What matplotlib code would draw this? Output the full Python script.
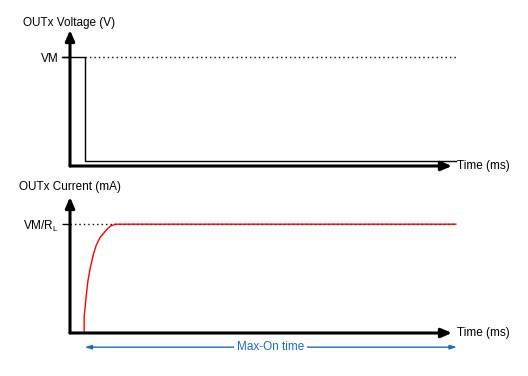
import matplotlib
matplotlib.use("Agg")
import matplotlib.pyplot as plt

plt.rcParams['font.family'] = ['Liberation Sans', 'DejaVu Sans']
plt.rcParams['mathtext.fontset'] = 'custom'
plt.rcParams['mathtext.rm'] = 'Liberation Sans'
plt.rcParams['mathtext.it'] = 'Liberation Sans'

# ---- data (time in arbitrary ms units, levels normalised to VM and VM/RL) ----
voltage_t = [-0.2, 0.38, 0.38, 10.1]
voltage_v = [1.0, 1.0, 0.045, 0.045]
vm_ref_t = [0.38, 10.1]
vm_ref_v = [1.0, 1.0]

current_t = [0.37, 0.37, 0.405, 0.44, 0.47, 0.52, 0.61, 0.69, 0.79, 0.96, 1.05, 1.18, 10.1]
current_i = [0.0, 0.15, 0.27, 0.39, 0.48, 0.58, 0.72, 0.81, 0.88, 0.95, 0.98, 1.0, 1.0]
irl_ref_t = [0.0, 10.1]
irl_ref_i = [1.0, 1.0]

max_on_start = 0.38
max_on_end = 10.13

top_ylabel = "OUTx Voltage (V)"
bot_ylabel = "OUTx Current (mA)"
xlabel = "Time (ms)"
top_tick = ["VM"]
bot_tick = [r"VM/R$_\mathrm{L}$"]
span_label = "Max-On time"

W, H = 528, 376
fig = plt.figure(figsize=(W / 100, H / 100), dpi=100)

def px_axes(x0, y0, x1, y1):
    return fig.add_axes([x0 / W, 1 - y0 / H, (x1 - x0) / W, (y0 - y1) / H])

ax1 = px_axes(70, 166, 452, 30)
ax2 = px_axes(70, 333, 452, 197)

FS = 8.5
for ax in (ax1, ax2):
    ax.set_xlim(0, 10)
    ax.set_ylim(0, 1.25)
    for s in ax.spines.values():
        s.set_visible(False)
    ax.set_xticks([])
    ax.tick_params(axis='y', length=6, width=1.0, pad=2, labelsize=FS, direction='out')
    ax.patch.set_alpha(0)
    arrow = dict(arrowstyle='-|>,head_length=0.7,head_width=0.3', lw=2.2,
                 color='black', shrinkA=0, shrinkB=0, mutation_scale=9)
    ax.annotate('', xy=(1, 0), xytext=(0, 0), xycoords='axes fraction',
                arrowprops=arrow, annotation_clip=False)
    ax.annotate('', xy=(0, 1), xytext=(0, 0), xycoords='axes fraction',
                arrowprops=arrow, annotation_clip=False)
    ax.text(1.0 + 5 / 382, 0, xlabel, transform=ax.transAxes, ha='left',
            va='center', fontsize=FS)

ax1.set_yticks([1.0], top_tick)
ax2.set_yticks([1.0], bot_tick)

dots = (0, (1, 2.2))
# top: voltage
ax1.plot(vm_ref_t, vm_ref_v, color='black', lw=1.0, ls=dots, clip_on=False)
ax1.plot(voltage_t, voltage_v, color='black', lw=1.0, clip_on=False)

# bottom: current
ax2.plot(current_t, current_i, color='#ff0000', lw=1.0, clip_on=False, zorder=2)
ax2.plot(irl_ref_t, irl_ref_i, color='black', lw=1.0, ls=dots, clip_on=False, zorder=1)

fig.text(69 / W, 1 - 23 / H, top_ylabel, ha='center', va='center', fontsize=FS)
fig.text(70 / W, 1 - 187 / H, bot_ylabel, ha='center', va='center', fontsize=FS)

blue = '#1a6fc0'
ax2.annotate('', xy=(max_on_end, -0.13), xytext=(max_on_start, -0.13),
             xycoords='data',
             arrowprops=dict(arrowstyle='<|-|>,head_length=0.5,head_width=0.15',
                             lw=1.0, color=blue, shrinkA=0, shrinkB=0,
                             mutation_scale=8),
             annotation_clip=False)
ax2.text((max_on_start + max_on_end) / 2, -0.13, span_label, color=blue,
         ha='center', va='center', fontsize=FS, clip_on=False,
         bbox=dict(facecolor='white', edgecolor='none', pad=2))

fig.savefig('out.png', dpi=100)
